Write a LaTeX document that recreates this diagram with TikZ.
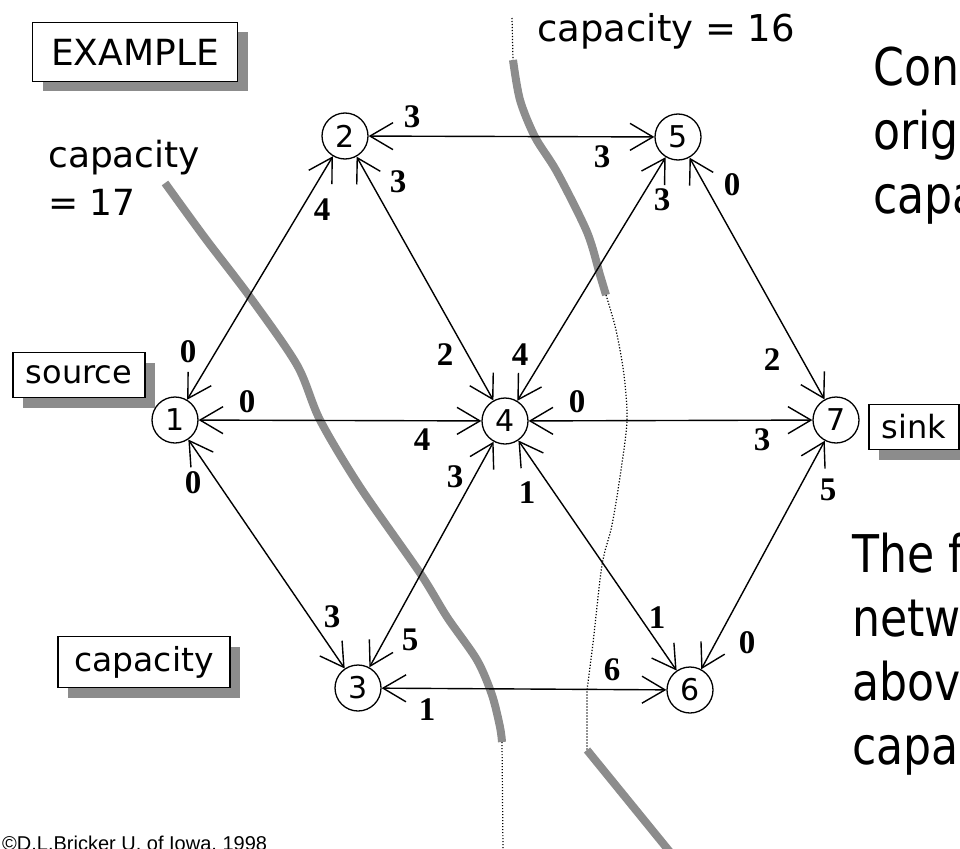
\documentclass[tikz,border=0pt]{standalone}
\usepackage{fontspec}
\setmainfont{DejaVu Sans}
\newfontfamily\numfont{Liberation Serif}[UprightFont=* Bold]
\newfontfamily\smallfont{Liberation Sans}
\newfontfamily\notefont[FakeStretch=0.85]{DejaVu Sans}
\usetikzlibrary{arrows.meta,shadows}
\definecolor{shade}{gray}{0.55}

\begin{document}
\begin{tikzpicture}[x=1pt, y=-1pt,
  vertex/.style={draw, circle, line width=1.3pt, minimum size=46pt, inner sep=0pt, font=\fontsize{30}{30}\selectfont},
  num/.style={inner sep=0pt, font=\fontsize{33}{33}\numfont},
  tag/.style={draw, line width=1.8pt, fill=white, inner sep=0pt,
    drop shadow={shadow xshift=10pt, shadow yshift=-10pt, fill=shade, opacity=1}},
  flow/.style={{Straight Barb[length=23pt,width=27pt]}-{Straight Barb[length=23pt,width=27pt]}, line width=1.4pt},
  band/.style={line width=8pt, draw=shade},
  trace/.style={line width=1.2pt, dash pattern=on 1.2pt off 1.8pt},
  note/.style={anchor=north west, inner sep=0pt, align=left, font=\fontsize{52}{64}\notefont}]
\clip (0,0) rectangle (960,848);

% cuts
\draw[band] plot[smooth] coordinates {(165,183) (205,238) (250,297) (297,365) (320,420) (360,487) (420,573) (447,617) (477,660) (492,695) (500,727) (502,742)};
\draw[trace] (502,742) -- (503,850);
\draw[trace] (512,18) -- (513,60);
\draw[band] plot[smooth] coordinates {(513,60) (520,100) (535,137) (557,172) (587,232) (600,275) (606,295)};
\draw[trace] plot[smooth] coordinates {(606,295) (616,330) (624,375) (627,420) (621,470) (612,525) (602,565) (593,643) (587,690)} -- (587,750);
\draw[band] (587,750) -- (670,852);

% network
\node[vertex] (n1) at (175,420) {1};
\node[vertex] (n2) at (345,136) {2};
\node[vertex] (n3) at (358,688) {3};
\node[vertex] (n4) at (505,421) {4};
\node[vertex] (n5) at (678,137) {5};
\node[vertex] (n6) at (690,690) {6};
\node[vertex] (n7) at (836,420) {7};

\draw[flow] (n1) -- (n2);
\draw[flow] (n1) -- (n4);
\draw[flow] (n1) -- (n3);
\draw[flow] (n2) -- (n5);
\draw[flow] (n2) -- (n4);
\draw[flow] (n5) -- (n4);
\draw[flow] (n5) -- (n7);
\draw[flow] (n4) -- (n7);
\draw[flow] (n4) -- (n3);
\draw[flow] (n4) -- (n6);
\draw[flow] (n7) -- (n6);
\draw[flow] (n3) -- (n6);

% residual capacities
\node[num] (r12) at (188,352) {0};
\node[num] (r21) at (322,210) {4};
\node[num] (r14) at (247,402) {0};
\node[num] (r41) at (422,440) {4};
\node[num] (r13) at (193,483) {0};
\node[num] (r31) at (332,617) {3};
\node[num] (r25) at (412,117) {3};
\node[num] (r52) at (602,157) {3};
\node[num] (r24) at (398,182) {3};
\node[num] (r42) at (445,355) {2};
\node[num] (r54) at (662,200) {3};
\node[num] (r45) at (520,355) {4};
\node[num] (r57) at (732,185) {0};
\node[num] (r75) at (772,360) {2};
\node[num] (r47) at (577,402) {0};
\node[num] (r74) at (762,440) {3};
\node[num] (r43) at (455,477) {3};
\node[num] (r34) at (410,640) {5};
\node[num] (r46) at (527,493) {1};
\node[num] (r64) at (657,618) {1};
\node[num] (r76) at (828,490) {5};
\node[num] (r67) at (747,643) {0};
\node[num] (r36) at (427,710) {1};
\node[num] (r63) at (612,670) {6};

% boxes and texts
\node[tag, minimum width=205pt, minimum height=59pt, font=\fontsize{36}{36}\selectfont] (ex) at (135,52) {EXAMPLE};
\node[tag, minimum width=132pt, minimum height=45pt, font=\fontsize{32}{32}\selectfont] (src) at (79,375) {source};
\node[tag, minimum width=90pt, minimum height=45pt, font=\fontsize{32}{32}\selectfont] (snk) at (914,427) {sink};
\node[tag, minimum width=172pt, minimum height=51pt, font=\fontsize{33}{33}\selectfont] (cap) at (144,662) {capacity};
\node[anchor=north west, inner sep=0pt, align=left, font=\fontsize{36}{48}\selectfont] (cut17) at (48,140) {capacity\\= 17};
\node[anchor=base west, inner sep=0pt, font=\fontsize{37}{37}\selectfont] (cut16) at (537,42) {capacity = 16};
\node[note] (top) at (873,47) {Cons\\orig\\capa};
\node[note] (bot) at (852,533) {The f\\netw\\abov\\capa};
\node[anchor=base west, inner sep=0pt, font=\fontsize{20}{20}\smallfont] (copy) at (2,850) {©D.L.Bricker U. of Iowa, 1998};
\end{tikzpicture}
\end{document}
